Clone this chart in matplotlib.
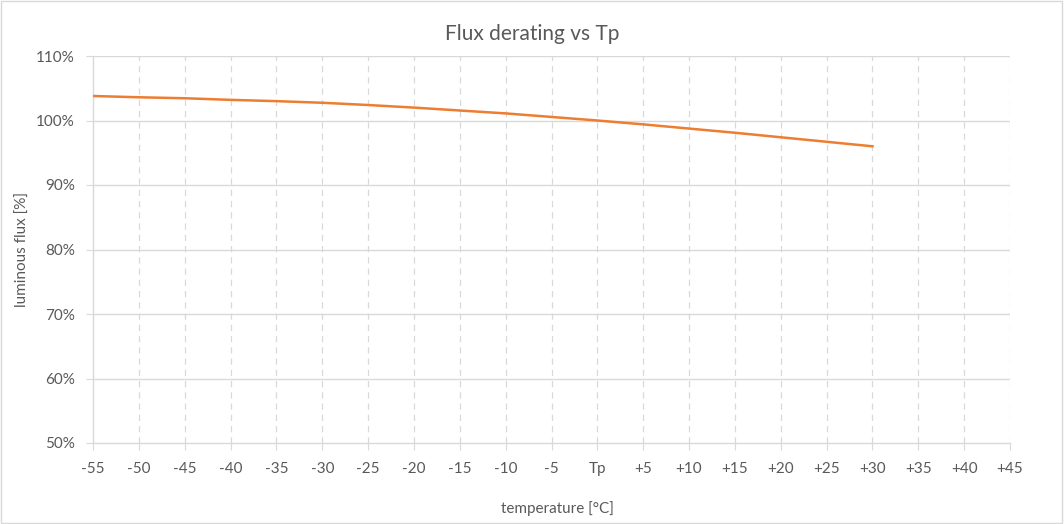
import numpy as np
import matplotlib.pyplot as plt
from matplotlib.patches import Rectangle

# category labels on the x axis
temps = ['-55', '-50', '-45', '-40', '-35', '-30', '-25', '-20', '-15', '-10', '-5', 'Tp',
         '+5', '+10', '+15', '+20', '+25', '+30', '+35', '+40', '+45']
# relative luminous flux [%] (data stops at +30)
flux = [103.8, 103.6, 103.45, 103.2, 103.0, 102.75, 102.4, 102.0, 101.55, 101.1, 100.55, 100.0,
        99.4, 98.75, 98.1, 97.4, 96.7, 96.0]
yticks = [50, 60, 70, 80, 90, 100, 110]

plt.rcParams['font.family'] = ['Lato', 'DejaVu Sans']
grid_col = '#d9d9d9'
text_col = '#595959'

fig = plt.figure(figsize=(10.64, 5.24), dpi=100)
ax = fig.add_axes([93 / 1064, 1 - 443 / 524, (1010 - 93) / 1064, (443 - 56) / 524])

x = np.arange(len(temps))
ax.plot(np.arange(len(flux)), flux, color='#ed7d31', linewidth=1.8, zorder=3)

ax.set_xlim(0, len(temps) - 1)
ax.set_ylim(50, 110)
ax.set_xticks(x)
ax.set_xticklabels(temps)
ax.set_yticks(yticks)
ax.set_yticklabels([f'{v}%' for v in yticks])

# horizontal gridlines solid, vertical ones dashed
for v in yticks[1:]:
    ax.axhline(v, color=grid_col, linewidth=1, zorder=1)
for xi in x[1:]:
    ax.axvline(xi, color=grid_col, linewidth=0.9, linestyle=(0, (5, 4)), zorder=1)

for side in ['top', 'right']:
    ax.spines[side].set_visible(False)
for side in ['left', 'bottom']:
    ax.spines[side].set_color(grid_col)
    ax.spines[side].set_linewidth(1)

ax.tick_params(axis='x', direction='out', length=5, color=grid_col, labelcolor=text_col,
               labelsize=11, pad=9)
ax.tick_params(axis='y', direction='out', length=5, color=grid_col, labelcolor=text_col,
               labelsize=11, pad=8)

fig.text(0.5, 1 - 40 / 524, 'Flux derating vs Tp', fontsize=15, color=text_col,
         ha='center', va='baseline')
ax.set_ylabel('luminous flux [%]', fontsize=11, color=text_col)
ax.yaxis.set_label_coords(-(93 - 30) / 917, 0.5)
ax.set_xlabel('temperature [°C]', fontsize=11, color=text_col)
ax.xaxis.set_label_coords((557 - 93) / 917, -(501 - 443) / 387)

# chart area border
fig.patches.append(Rectangle((0.001, 0.001), 0.997, 0.997, transform=fig.transFigure,
                             fill=False, edgecolor=grid_col, linewidth=1))

fig.savefig('out.png', dpi=100)
